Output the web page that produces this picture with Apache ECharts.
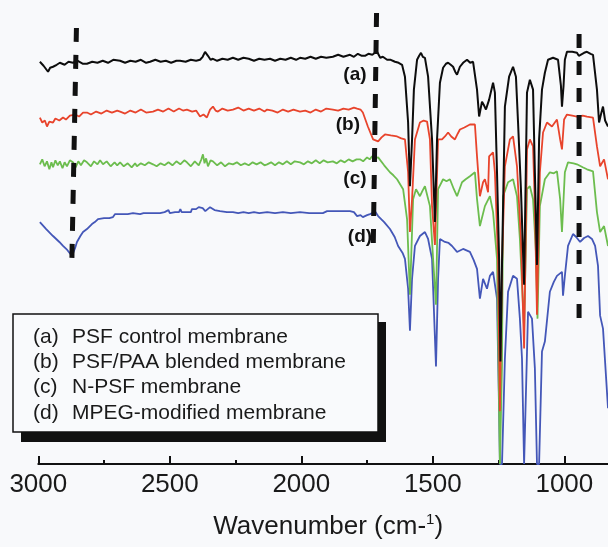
<!DOCTYPE html>
<html><head><meta charset="utf-8">
<script src="https://cdn.jsdelivr.net/npm/echarts@6/dist/echarts.min.js"></script>
<style>html,body{margin:0;padding:0;background:#f8f9fb}#c{width:608px;height:547px}</style>
</head><body><div id="c"></div>
<script>
// Wavenumber (cm-1) / transmittance (a.u.) pairs
const seriesA = [[2994,404],[2980,400],[2963,394],[2955,398],[2944,399],[2930,401],[2918,403],[2900,401],[2885,404],[2868,403],[2850,405],[2830,402],[2815,402],[2795,404],[2775,403],[2755,405],[2735,403],[2715,406],[2689,405],[2670,403],[2650,405],[2630,404],[2610,406],[2590,403],[2575,404],[2555,406],[2535,404],[2515,405],[2495,403],[2475,405],[2461,405],[2440,404],[2420,406],[2400,405],[2385,406],[2375,409],[2366,414],[2355,410],[2345,406],[2336,407],[2320,405],[2300,407],[2280,406],[2260,408],[2240,406],[2220,408],[2200,407],[2180,405],[2160,407],[2140,406],[2119,407],[2100,405],[2080,407],[2060,406],[2040,408],[2020,406],[2005,408],[1985,407],[1965,409],[1945,407],[1925,409],[1905,408],[1880,409],[1860,411],[1840,409],[1815,411],[1800,409],[1785,412],[1770,410],[1758,410],[1745,412],[1730,411],[1720,413],[1712,414],[1700,408],[1690,409],[1674,406],[1660,406],[1644,404],[1630,403],[1617,401],[1606,389],[1594,343],[1587,279],[1579,326],[1572,376],[1560,406],[1552,410],[1545,413],[1538,409],[1530,408],[1518,389],[1503,326],[1492,243],[1484,326],[1473,383],[1461,398],[1450,402],[1442,403],[1432,401],[1423,399],[1415,394],[1408,391],[1397,399],[1385,403],[1370,406],[1358,403],[1347,404],[1332,376],[1324,349],[1313,364],[1305,360],[1298,356],[1286,366],[1271,383],[1264,373],[1256,293],[1248,206],[1243,103],[1237,200],[1226,359],[1210,389],[1195,399],[1184,389],[1176,343],[1165,276],[1153,180],[1142,373],[1131,386],[1119,376],[1112,293],[1104,200],[1096,326],[1085,376],[1074,393],[1062,406],[1043,408],[1024,406],[1013,380],[1009,359],[1003,380],[998,406],[990,414],[970,414],[952,413],[945,410],[940,411],[925,413],[914,414],[900,412],[891,411],[876,376],[868,343],[860,352],[853,359],[845,345],[834,339]];
const seriesB = [[2994,348],[2985,343],[2975,345],[2967,339],[2958,344],[2944,343],[2935,347],[2920,345],[2906,348],[2895,346],[2880,350],[2860,351],[2845,349],[2830,353],[2815,353],[2800,351],[2780,354],[2760,352],[2740,355],[2720,353],[2700,355],[2689,354],[2670,352],[2650,355],[2630,353],[2610,356],[2590,353],[2564,354],[2545,356],[2525,354],[2505,357],[2485,354],[2465,357],[2450,355],[2435,356],[2415,354],[2400,355],[2385,349],[2372,351],[2359,348],[2347,356],[2336,359],[2326,355],[2317,354],[2300,357],[2280,355],[2260,356],[2240,358],[2220,355],[2200,357],[2180,355],[2160,357],[2140,354],[2130,356],[2110,355],[2090,353],[2070,356],[2050,354],[2030,356],[2005,354],[1985,355],[1965,353],[1945,356],[1925,354],[1905,357],[1880,356],[1860,355],[1840,357],[1820,356],[1800,358],[1788,357],[1775,356],[1766,353],[1747,339],[1727,326],[1708,324],[1695,328],[1682,331],[1660,330],[1636,329],[1620,327],[1606,326],[1594,293],[1587,233],[1579,266],[1568,326],[1549,343],[1535,345],[1522,344],[1511,326],[1503,259],[1492,220],[1480,326],[1465,326],[1454,329],[1442,333],[1430,329],[1416,326],[1405,332],[1397,336],[1380,338],[1359,341],[1340,341],[1332,309],[1321,269],[1309,283],[1302,286],[1290,273],[1286,309],[1271,313],[1264,293],[1252,206],[1245,53],[1237,200],[1226,299],[1207,326],[1195,329],[1180,299],[1165,226],[1153,116],[1142,316],[1131,326],[1119,319],[1112,259],[1104,150],[1093,293],[1081,333],[1066,343],[1047,339],[1028,346],[1016,326],[1009,316],[1001,346],[990,351],[970,350],[952,349],[930,350],[914,349],[891,348],[876,319],[864,299],[849,306],[834,286]];
const seriesC = [[2994,301],[2985,306],[2976,299],[2967,304],[2958,296],[2950,303],[2944,298],[2935,305],[2926,300],[2918,304],[2908,297],[2900,303],[2891,299],[2880,305],[2868,303],[2858,298],[2848,304],[2838,300],[2826,305],[2815,303],[2800,299],[2788,304],[2775,301],[2765,305],[2754,301],[2740,304],[2725,299],[2710,303],[2700,300],[2689,303],[2675,299],[2660,302],[2645,298],[2632,302],[2625,299],[2610,302],[2595,300],[2580,303],[2564,301],[2550,299],[2535,302],[2520,300],[2505,303],[2490,300],[2475,304],[2460,301],[2445,305],[2435,303],[2420,299],[2405,304],[2390,300],[2380,306],[2374,311],[2368,302],[2362,307],[2355,299],[2345,305],[2336,304],[2320,300],[2305,303],[2290,299],[2275,302],[2260,301],[2245,303],[2230,300],[2215,302],[2200,300],[2185,303],[2170,301],[2155,303],[2140,300],[2130,301],[2115,303],[2100,300],[2085,303],[2070,301],[2055,304],[2040,301],[2025,304],[2005,303],[1990,301],[1975,304],[1960,302],[1945,305],[1930,302],[1915,305],[1900,303],[1880,304],[1865,302],[1850,305],[1835,303],[1820,306],[1805,304],[1790,306],[1777,306],[1765,304],[1750,308],[1740,306],[1731,309],[1720,307],[1708,308],[1685,300],[1663,293],[1650,290],[1636,286],[1613,276],[1598,246],[1587,170],[1575,266],[1564,276],[1549,269],[1540,274],[1530,279],[1511,259],[1499,206],[1488,160],[1480,276],[1461,286],[1448,284],[1435,286],[1420,276],[1408,269],[1389,283],[1375,286],[1359,289],[1340,293],[1332,266],[1321,239],[1302,259],[1283,269],[1271,253],[1256,206],[1245,0],[1237,100],[1233,269],[1214,283],[1195,286],[1180,269],[1169,226],[1153,136],[1142,276],[1131,279],[1119,266],[1108,213],[1102,146],[1093,259],[1074,286],[1055,293],[1040,292],[1028,294],[1016,266],[1009,233],[998,293],[986,303],[965,302],[952,301],[930,298],[914,296],[891,294],[876,253],[864,233],[849,239],[834,219]];
const seriesD = [[2994,243],[2970,236],[2944,229],[2920,223],[2906,219],[2890,215],[2872,209],[2860,217],[2853,223],[2840,229],[2830,233],[2815,236],[2796,241],[2785,243],[2773,246],[2750,247],[2730,247],[2716,248],[2708,251],[2680,251],[2660,251],[2640,252],[2613,251],[2600,252],[2580,252],[2560,252],[2537,252],[2520,253],[2505,255],[2500,252],[2480,253],[2465,253],[2460,256],[2455,253],[2430,253],[2420,253],[2416,256],[2410,254],[2400,256],[2390,258],[2385,256],[2375,257],[2365,254],[2347,258],[2330,255],[2309,254],[2283,253],[2260,253],[2240,252],[2220,253],[2200,252],[2180,253],[2160,252],[2130,253],[2100,252],[2070,253],[2040,252],[2005,253],[1970,252],[1940,252],[1918,252],[1902,254],[1850,254],[1815,254],[1800,253],[1788,249],[1775,250],[1766,248],[1750,250],[1739,251],[1730,252],[1720,254],[1708,249],[1685,243],[1663,236],[1645,228],[1632,219],[1615,212],[1606,206],[1594,176],[1587,134],[1579,186],[1568,219],[1549,229],[1530,233],[1518,226],[1503,206],[1488,98],[1480,186],[1473,226],[1454,223],[1440,222],[1427,219],[1408,213],[1385,216],[1359,213],[1345,205],[1332,196],[1321,166],[1309,186],[1294,176],[1283,189],[1271,193],[1256,166],[1248,53],[1245,0],[1237,0],[1226,106],[1214,173],[1195,189],[1180,186],[1169,146],[1161,106],[1153,0],[1146,0],[1138,153],[1123,146],[1112,96],[1104,0],[1096,0],[1085,113],[1074,123],[1055,173],[1040,183],[1028,189],[1009,193],[1005,169],[998,189],[986,219],[967,231],[955,228],[940,223],[925,227],[910,229],[895,226],[883,219],[872,199],[864,149],[853,136],[834,56]];

const curveLabels = ['(a)', '(b)', '(c)', '(d)'];
const curveLabelPos = [[1796,391],[1823,341],[1796,286],[1777,228]];
const legendTags = ['(a)', '(b)', '(c)', '(d)'];
const legendNames = ['PSF control membrane', 'PSF/PAA blended membrane', 'N-PSF membrane', 'MPEG-modified membrane'];
const guideLines = [[[2855,438],[2873,196]], [[1714,453],[1727,209]], [[944,432],[944,136]]];
const majorTicks = [3000, 2500, 2000, 1500, 1000];
const minorTicks = [2750, 2250, 1750, 1250];

const FONT = '"Liberation Sans", Arial, Helvetica, sans-serif';
const colors = { a: '#0d0d0d', b: '#e8442c', c: '#6cbd4e', d: '#4457b8' };

const chart = echarts.init(document.getElementById('c'), null, { renderer: 'canvas' });

function spectrum(data, color, w) {
  return { type: 'line', data: data, showSymbol: false, symbol: 'none', clip: true,
    lineStyle: { color: color, width: w }, xAxisIndex: 0, yAxisIndex: 0, silent: true, z: 3 };
}

const series = [
  spectrum(seriesD, colors.d, 1.8),
  spectrum(seriesC, colors.c, 1.8),
  spectrum(seriesB, colors.b, 1.8),
  spectrum(seriesA, colors.a, 2)
];
guideLines.forEach(function (g) {
  series.push({ type: 'line', data: g, showSymbol: false, symbol: 'none', clip: false, silent: true, z: 5,
    lineStyle: { color: '#111', width: 5, type: [14, 13] } });
});
series.push({
  type: 'scatter', symbol: 'circle', symbolSize: 1, itemStyle: { color: 'rgba(0,0,0,0)' }, silent: true, z: 6,
  data: curveLabelPos.map(function (p, i) { return [p[0], p[1], curveLabels[i]]; }),
  label: { show: true, position: 'inside', formatter: function (p) { return p.value[2]; },
    fontFamily: FONT, fontSize: 19, fontWeight: 'bold', color: '#111111',
    textBorderWidth: 0, textBorderColor: 'transparent', opacity: 1 }
});

const graphics = [
  { type: 'rect', shape: { x: 21, y: 322, width: 365, height: 120 }, style: { fill: '#111' }, z: 10 },
  { type: 'rect', shape: { x: 13, y: 314, width: 365, height: 118 }, style: { fill: '#f9fafc', stroke: '#111', lineWidth: 1.5 }, z: 11 }
];
const rowY = [337, 362, 387, 413];
legendTags.forEach(function (t, i) {
  graphics.push({ type: 'text', x: 33, y: rowY[i], z: 12,
    style: { text: t, font: '21px ' + FONT, fill: '#1a1a1a', verticalAlign: 'middle', align: 'left' } });
  graphics.push({ type: 'text', x: 72, y: rowY[i], z: 12,
    style: { text: legendNames[i], font: '21px ' + FONT, fill: '#1a1a1a', verticalAlign: 'middle', align: 'left' } });
});

chart.setOption({
  backgroundColor: '#f8f9fb',
  animation: false,
  grid: { left: 38.3, right: 0, top: 11, height: 455, containLabel: false },
  xAxis: [{
    type: 'value', inverse: true, min: 834, max: 3000,
    axisLine: { show: true, lineStyle: { color: '#111', width: 2 } },
    axisTick: { show: true, inside: true, length: 8, lineStyle: { color: '#111', width: 2 }, customValues: majorTicks },
    axisLabel: { show: true, customValues: majorTicks, formatter: function (v) { return String(v); },
      fontFamily: FONT, fontSize: 26, color: '#1a1a1a', margin: 8 },
    splitLine: { show: false },
    name: 'Wavenumber (cm-{sup|1})', nameLocation: 'middle', nameGap: 48,
    nameTextStyle: { fontFamily: FONT, fontSize: 26, color: '#1a1a1a', lineHeight: 30, padding: [0, 0, 0, 10],
      rich: { sup: { fontFamily: FONT, fontSize: 15, verticalAlign: 'top', lineHeight: 30, padding: [0, 0, 12, 0] } } }
  }, {
    type: 'value', inverse: true, min: 834, max: 3000, position: 'bottom',
    axisLine: { show: false },
    axisTick: { show: true, inside: true, length: 4, lineStyle: { color: '#111', width: 2 }, customValues: minorTicks },
    axisLabel: { show: false }, splitLine: { show: false }
  }],
  yAxis: { type: 'value', min: 0, max: 455, show: false },
  graphic: graphics,
  series: series
});
</script>
</body></html>
